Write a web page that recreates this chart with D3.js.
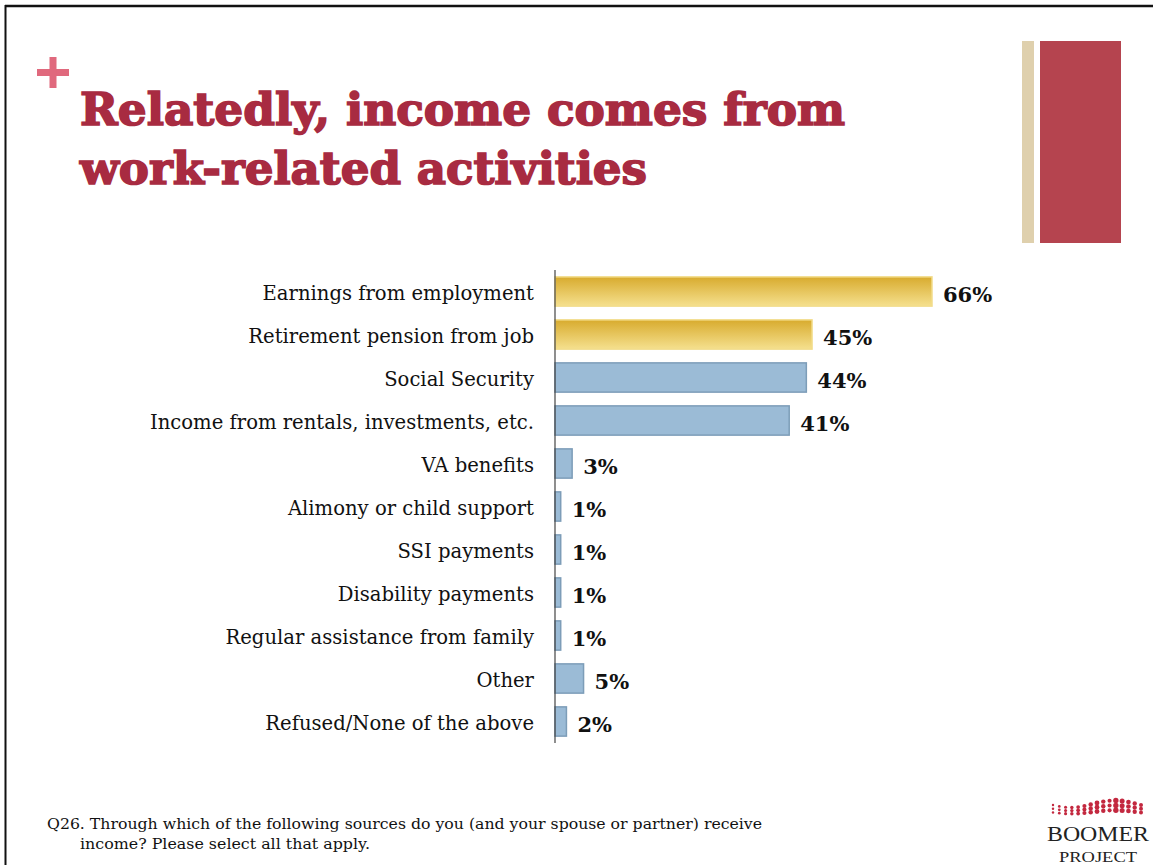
<!DOCTYPE html>
<html><head><meta charset="utf-8">
<script src="https://cdn.jsdelivr.net/npm/d3@7"></script>
<style>body{margin:0;background:#fff}svg{display:block}</style>
</head><body>
<svg id="c" width="1153" height="865"></svg>
<script>
const categories = ["Earnings from employment","Retirement pension from job","Social Security","Income from rentals, investments, etc.","VA benefits","Alimony or child support","SSI payments","Disability payments","Regular assistance from family","Other","Refused/None of the above"];
const values = [66,45,44,41,3,1,1,1,1,5,2];
const highlighted = [true,true,false,false,false,false,false,false,false,false,false];
const titleLines = ["Relatedly, income comes from","work-related activities"];
const footnoteLines = ["Q26. Through which of the following sources do you (and your spouse or partner) receive","income? Please select all that apply."];

const svg = d3.select("#c");
const defs = svg.append("defs");
const g1 = defs.append("linearGradient").attr("id","gold").attr("x1",0).attr("y1",0).attr("x2",0).attr("y2",1);
g1.append("stop").attr("offset","0%").attr("stop-color","#d8ab2e");
g1.append("stop").attr("offset","100%").attr("stop-color","#f5e08e");

// slide border
svg.append("line").attr("x1",5).attr("x2",1153).attr("y1",6).attr("y2",6).attr("stroke","#111").attr("stroke-width",2.5);
svg.append("line").attr("x1",5.5).attr("x2",5.5).attr("y1",5).attr("y2",865).attr("stroke","#111").attr("stroke-width",2);

// plus sign
svg.append("rect").attr("x",37).attr("y",69).attr("width",32).attr("height",7).attr("fill","#e0697d");
svg.append("rect").attr("x",49.5).attr("y",57).attr("width",7).attr("height",31).attr("fill","#e0697d");

// decorative bars
svg.append("rect").attr("x",1022).attr("y",41).attr("width",12).attr("height",202).attr("fill","#dfd0ad");
svg.append("rect").attr("x",1040).attr("y",41).attr("width",81).attr("height",202).attr("fill","#b5444f");

// title
svg.append("g").selectAll("text").data(titleLines).join("text")
  .attr("x",80).attr("y",(d,i)=>125+i*59)
  .attr("font-family","DejaVu Serif").attr("font-weight","bold").attr("font-size",44)
  .attr("fill","#a82b41").attr("stroke","#a82b41").attr("stroke-width",1.6)
  .attr("textLength",(d,i)=>i===0?765:567).attr("lengthAdjust","spacingAndGlyphs")
  .text(d=>d);

// chart
const x0 = 555;
const x = d3.scaleLinear().domain([0,66]).range([x0,932]);
const y = d3.scaleBand().domain(categories).range([270,743]).paddingInner(0.32).paddingOuter(0.16);

const bars = svg.append("g");
bars.selectAll("rect").data(categories).join("rect")
  .attr("x",x0).attr("y",d=>y(d)).attr("height",y.bandwidth())
  .attr("width",(d,i)=>x(values[i])-x0)
  .attr("fill",(d,i)=>highlighted[i]?"url(#gold)":"#9bbbd6")
  .attr("stroke",(d,i)=>highlighted[i]?"#f2dc8a":"#7d9db8").attr("stroke-width",1.5);

svg.append("g").selectAll("text").data(categories).join("text")
  .attr("x",534).attr("y",d=>y(d)+y.bandwidth()/2+8.5)
  .attr("text-anchor","end").attr("font-family","DejaVu Serif").attr("font-size",19.6)
  .attr("fill","#111").text(d=>d);

svg.append("g").selectAll("text").data(categories).join("text")
  .attr("x",(d,i)=>x(values[i])+11).attr("y",d=>y(d)+y.bandwidth()/2+10)
  .attr("font-family","DejaVu Serif").attr("font-weight","bold").attr("font-size",21)
  .attr("fill","#111").text((d,i)=>values[i]+"%");

svg.append("line").attr("x1",x0).attr("x2",x0).attr("y1",270).attr("y2",743).attr("stroke","#444").attr("stroke-width",1.2);

// footnote
svg.append("g").selectAll("text").data(footnoteLines).join("text")
  .attr("x",(d,i)=>i===0?47:80).attr("y",(d,i)=>829+i*20)
  .attr("font-family","DejaVu Serif").attr("font-size",14.5)
  .attr("textLength",(d,i)=>i===0?715:290).attr("lengthAdjust","spacingAndGlyphs")
  .attr("fill","#111").text(d=>d);

// logo
const logo = svg.append("g");
const dots = [];
for (let r=0;r<3;r++){ for(let k=0;k<15;k++){ const t=k/14; dots.push([1053+t*88, 804+r*4+Math.sin(t*Math.PI*2+0.3)*3.5*(1-r*0.25), 2.4-Math.abs(t-0.5)*2.4+ (t>0.7?0.8:0)]); } }
logo.selectAll("circle").data(dots).join("circle").attr("cx",d=>d[0]).attr("cy",d=>d[1]).attr("r",d=>Math.max(0.8,d[2])).attr("fill","#c3283f");
logo.append("text").attr("x",1098).attr("y",841).attr("text-anchor","middle").attr("font-family","Liberation Serif").attr("font-size",22)
  .attr("textLength",102).attr("lengthAdjust","spacingAndGlyphs").attr("fill","#222").text("BOOMER");
logo.append("text").attr("x",1098).attr("y",862).attr("text-anchor","middle").attr("font-family","Liberation Serif").attr("font-size",14)
  .attr("textLength",78).attr("lengthAdjust","spacingAndGlyphs").attr("fill","#222").text("PROJECT");
</script>
</body></html>
